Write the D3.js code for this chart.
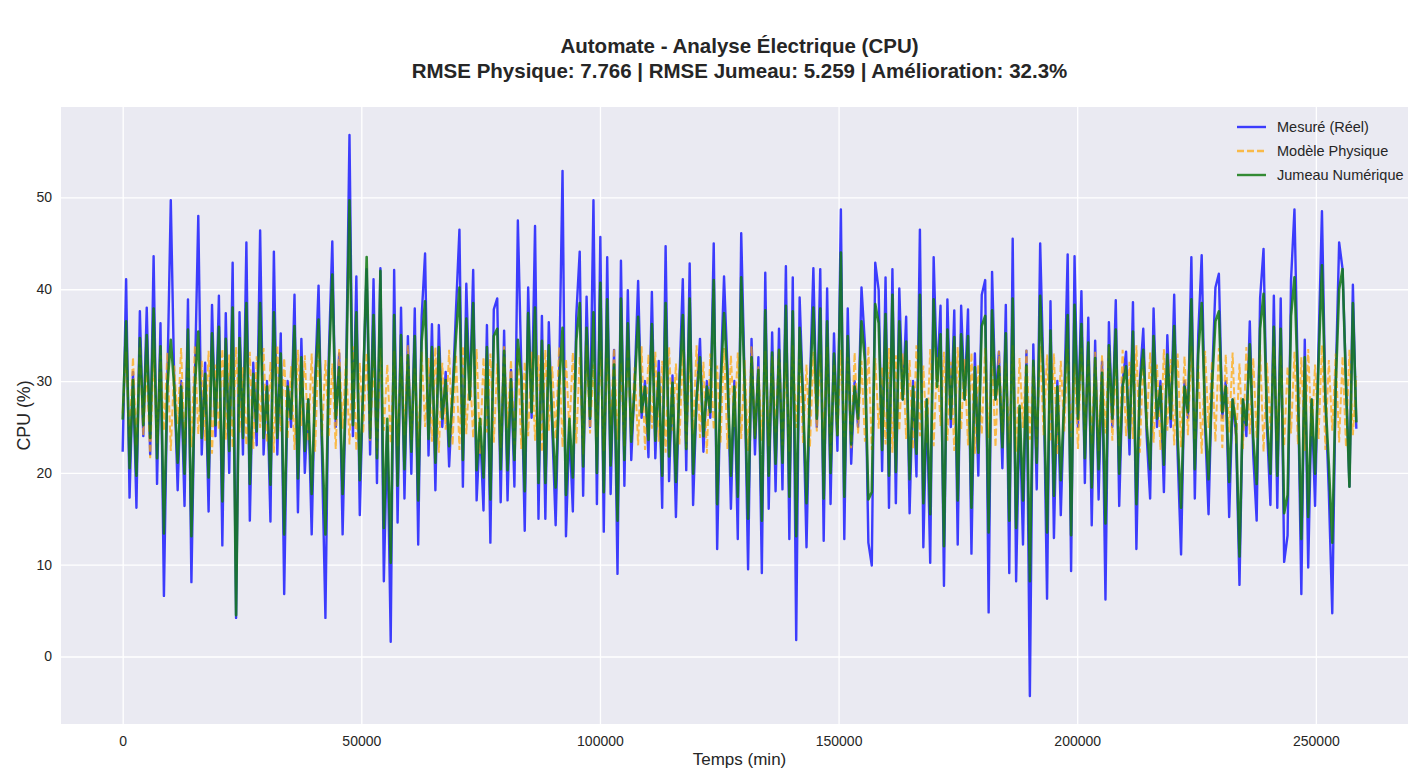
<!DOCTYPE html>
<html>
<head>
<meta charset="utf-8">
<script src="https://cdn.jsdelivr.net/npm/d3@7"></script>
<style>
  body { margin: 0; background: #fff; }
  svg { display: block; font-family: "Liberation Sans", Arial, sans-serif; }
</style>
</head>
<body>
<div id="chart"></div>
<script>
// samples are taken every 720 min (twice a day)
var sampleStep = 720;

var measured = [
  22.3, 41.1, 17.3, 31, 16.2, 37.6, 24, 38, 22, 43.6,
  18.8, 36.3, 6.6, 30, 49.7, 30, 18.1, 30, 16.4, 38.9,
  8.1, 30, 48, 22, 32, 15.8, 38.3, 24, 39.3, 12.1,
  37.4, 20, 42.9, 4.2, 37.5, 22, 45.1, 14.8, 32, 23,
  46.4, 22, 30, 14.7, 44.1, 22, 35.2, 6.8, 30, 25,
  39.4, 15.7, 34.6, 20, 28, 13.3, 30, 40.4, 22, 4.2,
  33, 45.2, 25, 33, 13.3, 30, 56.8, 24, 41.4, 15.4,
  30, 42.2, 22, 41.1, 18.9, 42.3, 8.2, 25, 1.6, 42.1,
  14.6, 38, 17.2, 34.9, 19.9, 37.9, 12.2, 37, 43.9, 21.9,
  36.2, 18.1, 36.1, 25, 31, 20.7, 28.6, 37.8, 46.5, 18.5,
  40.6, 28, 42.1, 17, 25, 15.9, 36.1, 12.4, 37.8, 39,
  16.8, 35.5, 17, 31.2, 18.5, 47.5, 31.5, 13.7, 40.2, 26,
  46.9, 15, 37.1, 15, 36.4, 25, 14.3, 30, 52.9, 13.1,
  25, 15.8, 37.1, 44.1, 17.5, 39.2, 25, 49.7, 16.6, 45.7,
  13.6, 43.5, 17.7, 33.4, 9, 43.1, 18.6, 39.9, 21.4, 30,
  40.9, 26, 30, 21.7, 39.7, 21.6, 32.2, 16.2, 44.7, 19.1,
  30.6, 15.2, 30, 41.1, 20.3, 42.8, 16.5, 28, 34.6, 22.3,
  30, 26, 45, 11.7, 30, 41.4, 31.4, 16.1, 30, 12.8,
  46.1, 30, 9.5, 34.6, 22, 32.6, 9.1, 41.8, 16.1, 35.3,
  18, 35.7, 18.2, 42.5, 12.8, 41.3, 1.8, 39.1, 28, 11.9,
  29.7, 42.3, 25, 42.2, 12.6, 40.1, 16.6, 35.2, 22.4, 48.7,
  12.8, 37.9, 21, 30, 25, 40.2, 34, 12.4, 9.9, 42.9,
  39.9, 20.2, 41.3, 16.2, 42.2, 16.7, 40.1, 28, 37, 15.6,
  30, 19.6, 46.5, 11.9, 28, 10.2, 43.5, 30, 38.2, 7.7,
  38.9, 25, 37.7, 12.2, 38.2, 28, 37.8, 11.2, 33, 19.7,
  39.4, 41, 4.8, 41.9, 28, 33.2, 20.5, 38.3, 9.1, 45.5,
  8.2, 27, 12.2, 33.3, -4.3, 34, 18.2, 45, 30, 6.3,
  38.7, 12.9, 30, 15.4, 28, 43.8, 9.3, 43.6, 25, 39.8,
  18.9, 36.9, 14.3, 34.4, 17.1, 32.1, 6.2, 36.4, 25, 38.8,
  16.4, 30, 33.2, 22, 38.6, 11.7, 30, 35.7, 24, 17.2,
  37.9, 25, 30, 17.9, 35, 25, 39.4, 22, 11.1, 30,
  26, 43.5, 17.2, 35.1, 43.7, 25, 15.5, 30, 40.2, 41.7,
  26, 30, 15.2, 28, 24, 7.8, 28, 24, 36.5, 22,
  14.8, 39, 44.4, 25, 16.5, 39.3, 16.2, 39, 10.3, 13.2,
  41, 48.7, 30, 6.8, 34.5, 9.7, 28, 16.4, 33.8, 48.5,
  28, 17.9, 4.7, 30, 45.1, 42.2, 30, 18.5, 40.5, 24.8
];

var physique = [
  26.5, 33.2, 23.8, 32.6, 22.9, 33.8, 24.1, 31.9, 21.6, 33.4,
  23.2, 32.8, 24.6, 33.1, 22.4, 31.7, 25.3, 33.6, 23.1, 32.4,
  22.8, 33.9, 24.2, 32.2, 23.5, 33.3, 22.1, 31.8, 24.7, 33.5,
  23.6, 32.9, 22.7, 33.7, 24.4, 31.5, 23.0, 33.2, 22.6, 32.7,
  24.9, 33.6, 23.3, 32.1, 22.2, 33.9, 24.5, 32.5, 23.7, 31.6,
  22.5, 33.4, 25.1, 32.8, 23.4, 33.0, 22.3, 34.0, 24.0, 32.3,
  23.9, 31.9, 22.6, 33.5, 24.8, 32.6, 23.1, 33.8, 22.4, 32.0,
  24.3, 33.1, 23.5, 32.4, 22.0, 33.6, 24.6, 31.8, 23.2, 33.3,
  22.9, 32.7, 24.1, 33.9, 23.6, 31.4, 22.8, 33.2, 25.0, 32.5,
  23.4, 33.7, 22.2, 32.0, 24.7, 33.4, 23.0, 32.9, 22.5, 33.8,
  24.2, 31.7, 23.8, 33.5, 22.1, 32.6, 24.4, 33.0, 23.3, 31.9,
  22.7, 33.9, 24.9, 32.3, 23.1, 33.6, 22.6, 32.1, 24.0, 33.2,
  23.5, 32.8, 22.3, 33.4, 24.6, 31.6, 23.7, 33.7, 22.8, 32.4,
  24.5, 33.1, 23.2, 32.7, 22.0, 33.9, 24.3, 31.8, 23.9, 33.3,
  22.4, 32.5, 25.2, 33.6, 23.6, 32.0, 22.9, 33.5, 24.1, 31.5,
  23.0, 33.8, 22.5, 32.9, 24.8, 33.2, 23.4, 32.2, 22.2, 33.7,
  24.6, 31.9, 23.1, 33.4, 22.7, 32.6, 24.2, 33.9, 23.8, 32.1,
  22.1, 33.0, 24.7, 31.7, 23.3, 33.6, 22.6, 32.8, 25.0, 33.1,
  23.7, 32.3, 22.4, 33.8, 24.0, 31.6, 23.5, 33.3, 22.9, 32.7,
  24.4, 33.5, 23.0, 32.0, 22.3, 33.9, 24.9, 32.4, 23.2, 31.8,
  22.8, 33.2, 24.5, 32.9, 23.6, 33.7, 22.0, 31.9, 24.1, 33.4,
  23.9, 32.6, 22.7, 33.1, 24.3, 32.2, 23.4, 33.8, 22.5, 32.5,
  24.8, 31.5, 23.1, 33.6, 22.2, 32.8, 24.6, 33.0, 23.7, 32.3,
  22.6, 33.9, 24.0, 31.7, 23.3, 33.5, 22.9, 32.6, 25.1, 33.2,
  23.5, 32.1, 22.4, 33.7, 24.7, 32.4, 23.0, 33.1, 22.1, 31.8,
  24.2, 33.6, 23.8, 32.7, 22.8, 33.3, 24.4, 32.0, 23.2, 33.9,
  22.3, 32.5, 24.9, 33.4, 23.6, 31.6, 22.7, 33.8, 24.1, 32.9,
  23.4, 33.0, 22.0, 32.2, 24.5, 33.5, 23.9, 31.9, 22.6, 33.6,
  24.7, 32.3, 23.1, 33.2, 22.4, 32.8, 24.3, 33.7, 23.5, 31.5,
  22.9, 33.4, 24.0, 32.1, 23.7, 33.9, 22.2, 32.6, 24.8, 33.1,
  23.3, 31.8, 22.5, 33.5, 24.6, 32.4, 23.0, 33.0, 22.8, 32.7,
  24.1, 33.8, 23.6, 31.7, 22.1, 33.3, 24.9, 32.2, 23.4, 33.6,
  22.7, 32.9, 24.4, 33.1, 23.2, 31.9, 22.6, 33.7, 24.2, 32.5,
  23.8, 33.4, 22.3, 32.0, 24.7, 33.8, 23.5, 32.8, 22.9, 31.6,
  24.3, 33.2, 23.1, 32.6, 22.4, 33.5, 24.0, 31.8, 23.7, 33.9,
  22.5, 32.3, 24.6, 33.0, 23.3, 32.7, 22.8, 33.4, 24.1, 30.5
];

var jumeau = [
  25.8, 36.5, 20.5, 30.1, 19.7, 34.7, 25.2, 35.0, 23.8, 37.9,
  21.6, 33.8, 13.4, 29.4, 34.5, 29.4, 21.1, 29.4, 19.9, 35.6,
  13.1, 29.4, 35.4, 23.8, 30.8, 19.5, 35.2, 25.2, 35.9, 16.9,
  34.6, 22.4, 38.0, 4.5, 34.7, 23.8, 38.5, 18.8, 30.8, 24.5,
  38.5, 23.8, 29.4, 18.7, 37.5, 23.8, 33.0, 13.3, 29.4, 25.9,
  36.0, 19.4, 32.6, 22.4, 28.0, 17.7, 29.4, 36.7, 23.8, 13.3,
  31.5, 41.6, 25.9, 31.5, 17.7, 29.4, 49.7, 25.2, 37.5, 19.2,
  29.4, 43.5, 23.8, 37.2, 21.6, 42.0, 14.0, 25.9, 10.2, 37.2,
  18.6, 35.0, 20.4, 32.8, 22.3, 34.9, 17.0, 34.3, 38.7, 23.7,
  33.7, 21.1, 33.7, 25.9, 30.1, 22.9, 28.4, 34.9, 40.2, 21.4,
  36.8, 28.0, 38.5, 20.3, 25.9, 19.5, 33.7, 17.1, 34.9, 35.7,
  20.4, 33.3, 20.3, 30.2, 21.4, 34.5, 30.5, 18.0, 37.4, 26.6,
  38.0, 18.9, 34.4, 18.9, 33.9, 25.9, 18.4, 29.4, 35.8, 17.6,
  25.9, 19.5, 34.4, 38.5, 20.7, 35.8, 25.9, 37.5, 20.0, 40.7,
  17.9, 38.9, 20.8, 31.8, 14.8, 39.0, 21.4, 36.3, 23.4, 29.4,
  37.0, 26.6, 29.4, 23.6, 36.2, 23.5, 30.9, 19.7, 38.5, 21.8,
  29.8, 19.0, 29.4, 37.2, 22.6, 39.0, 19.9, 28.0, 32.6, 24.0,
  29.4, 26.6, 41.0, 16.6, 29.4, 37.4, 30.4, 19.7, 29.4, 17.4,
  41.3, 29.4, 15.0, 32.6, 23.8, 31.2, 14.8, 37.7, 19.7, 33.1,
  21.0, 33.4, 21.1, 38.2, 17.4, 37.6, 13.1, 35.8, 28.0, 16.7,
  29.2, 38.0, 25.9, 37.9, 17.2, 36.5, 20.0, 33.0, 24.1, 44.0,
  17.4, 34.9, 23.1, 29.4, 25.9, 36.5, 32.2, 17.1, 17.9, 38.4,
  36.3, 22.5, 37.3, 19.7, 39.4, 20.1, 36.5, 28.0, 34.3, 19.3,
  29.4, 22.1, 39.4, 16.7, 28.0, 15.5, 38.9, 29.4, 35.1, 12.0,
  35.6, 25.9, 34.8, 17.0, 35.1, 28.0, 34.9, 16.2, 31.5, 22.2,
  36.0, 37.1, 13.5, 37.7, 28.0, 31.6, 22.8, 35.2, 14.8, 39.0,
  14.0, 27.3, 17.0, 31.7, 8.2, 32.2, 21.1, 39.3, 29.4, 13.5,
  35.5, 17.5, 29.4, 19.2, 28.0, 37.2, 13.2, 38.3, 25.9, 36.2,
  21.6, 34.2, 18.4, 32.5, 20.4, 30.9, 14.5, 33.9, 25.9, 35.6,
  19.9, 29.4, 31.6, 23.8, 35.4, 16.6, 29.4, 33.4, 25.2, 20.4,
  34.9, 25.9, 29.4, 20.9, 32.9, 25.9, 36.0, 23.8, 16.2, 29.4,
  26.6, 38.9, 20.4, 33.0, 38.5, 25.9, 19.3, 29.4, 36.5, 37.6,
  26.6, 29.4, 19.0, 28.0, 25.2, 10.9, 28.0, 25.2, 34.0, 23.8,
  18.8, 35.7, 39.5, 25.9, 19.9, 35.9, 19.7, 35.7, 15.6, 17.6,
  37.1, 41.3, 29.4, 12.8, 32.6, 15.2, 28.0, 19.9, 31.9, 42.6,
  28.0, 20.9, 12.4, 29.4, 40.0, 42.2, 29.4, 18.5, 38.5, 25.5
];

var xTicks = [0, 50000, 100000, 150000, 200000, 250000];
var yTicks = [0, 10, 20, 30, 40, 50];
var seriesNames = ["Mesuré (Réel)", "Modèle Physique", "Jumeau Numérique"];
var titleLines = ["Automate - Analyse Électrique (CPU)",
                  "RMSE Physique: 7.766 | RMSE Jumeau: 5.259 | Amélioration: 32.3%"];

var width = 1408, height = 771;
// the axes runs a bit past the right edge of the screenshot
var plot = {left: 61, top: 107, right: 1418, bottom: 724};
var txt = "#262626";
var blueC = "#1010ff", orangeC = "orange", greenC = "#137a13";

var svg = d3.select("#chart").append("svg")
    .attr("width", width)
    .attr("height", height);

var times = measured.map(function(d, i){ return i * sampleStep; });

// matplotlib style 5% margins
var tExt = d3.extent(times);
var tPad = (tExt[1] - tExt[0]) * 0.05;
var vExt = d3.extent(measured.concat(physique, jumeau));
var vPad = (vExt[1] - vExt[0]) * 0.05;

var x = d3.scaleLinear()
    .domain([tExt[0] - tPad, tExt[1] + tPad])
    .range([plot.left, plot.right]);
var y = d3.scaleLinear()
    .domain([vExt[0] - vPad, vExt[1] + vPad])
    .range([plot.bottom, plot.top]);

svg.append("rect")
    .attr("x", plot.left).attr("y", plot.top)
    .attr("width", plot.right - plot.left)
    .attr("height", plot.bottom - plot.top)
    .attr("fill", "#EAEAF2");

svg.append("clipPath").attr("id", "clip")
  .append("rect")
    .attr("x", plot.left).attr("y", plot.top)
    .attr("width", plot.right - plot.left)
    .attr("height", plot.bottom - plot.top);

// grid + tick labels
var gx = svg.append("g")
    .attr("transform", "translate(0," + plot.bottom + ")")
    .call(d3.axisBottom(x).tickValues(xTicks).tickFormat(d3.format("d"))
        .tickSize(-(plot.bottom - plot.top)).tickPadding(12));
var gy = svg.append("g")
    .attr("transform", "translate(" + plot.left + ",0)")
    .call(d3.axisLeft(y).tickValues(yTicks).tickFormat(d3.format("d"))
        .tickSize(-(plot.right - plot.left)).tickPadding(9));

[gx, gy].forEach(function(g){
    g.select(".domain").remove();
    g.selectAll(".tick line").attr("stroke", "#fff").attr("stroke-width", 1.3);
    g.selectAll(".tick text").attr("fill", txt).style("font-size", "14px");
});

// lines
var lineOf = function(vals){
    return d3.line()
        .x(function(d, i){ return x(times[i]); })
        .y(function(d){ return y(d); })(vals);
};

var lines = svg.append("g").attr("clip-path", "url(#clip)");

lines.append("path")
    .attr("d", lineOf(measured))
    .attr("fill", "none")
    .attr("stroke", blueC)
    .attr("stroke-opacity", 0.8)
    .attr("stroke-width", 2.4)
    .attr("stroke-linejoin", "round");

lines.append("path")
    .attr("d", lineOf(physique))
    .attr("fill", "none")
    .attr("stroke", orangeC)
    .attr("stroke-opacity", 0.7)
    .attr("stroke-width", 2)
    .attr("stroke-dasharray", "7,3");

lines.append("path")
    .attr("d", lineOf(jumeau))
    .attr("fill", "none")
    .attr("stroke", greenC)
    .attr("stroke-opacity", 0.85)
    .attr("stroke-width", 2.6)
    .attr("stroke-linejoin", "round");

// legend (no frame, seaborn darkgrid)
var legendItems = [
    {name: seriesNames[0], color: blueC, op: 0.8, dash: null},
    {name: seriesNames[1], color: orangeC, op: 0.7, dash: "7,3"},
    {name: seriesNames[2], color: greenC, op: 0.85, dash: null}
];
var leg = svg.append("g").attr("transform", "translate(1237,127)");
legendItems.forEach(function(it, i){
    var row = leg.append("g").attr("transform", "translate(0," + (i * 24) + ")");
    row.append("line")
        .attr("x1", 0).attr("x2", 29).attr("y1", 0).attr("y2", 0)
        .attr("stroke", it.color)
        .attr("stroke-opacity", it.op)
        .attr("stroke-width", 2.4)
        .attr("stroke-dasharray", it.dash);
    row.append("text")
        .attr("x", 40).attr("y", 0).attr("dy", "0.35em")
        .attr("fill", txt)
        .style("font-size", "14.5px")
        .text(it.name);
});

// titles and axis labels
var cx = (plot.left + plot.right) / 2;
titleLines.forEach(function(t, i){
    svg.append("text")
        .attr("x", cx).attr("y", 53 + i * 24.5)
        .attr("text-anchor", "middle")
        .attr("fill", txt)
        .style("font-size", "20.5px")
        .style("font-weight", "bold")
        .text(t);
});

svg.append("text")
    .attr("x", cx).attr("y", 765)
    .attr("text-anchor", "middle")
    .attr("fill", txt)
    .style("font-size", "17px")
    .text("Temps (min)");

svg.append("text")
    .attr("transform", "translate(30," + ((plot.top + plot.bottom) / 2) + ") rotate(-90)")
    .attr("text-anchor", "middle")
    .attr("fill", txt)
    .style("font-size", "17.8px")
    .text("CPU (%)");
</script>
</body>
</html>
